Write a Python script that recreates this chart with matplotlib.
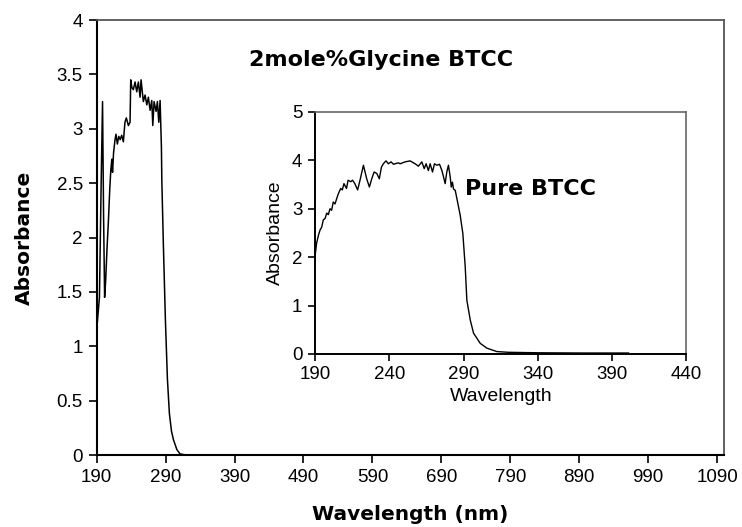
import matplotlib
matplotlib.use("Agg")
import matplotlib.pyplot as plt
import numpy as np

plt.rcParams["font.family"] = ["Liberation Sans", "DejaVu Sans"]

# 2 mole% glycine doped BTCC (main plot)
wl_main = [190, 192, 194, 196.5, 198.5, 200, 201.5, 203, 205, 207, 209, 210.5,
           212, 213, 214.5, 216.6, 218, 220, 222, 224, 226.3, 228.7, 231, 233,
           236, 238.4, 239.4, 241, 243.2, 245.7, 248.1, 250.5, 252.9, 254.4, 256,
           257.7, 260.2, 262.7, 265, 267.5, 269.9, 271.4, 273.3, 276.2, 278.1,
           280.1, 282, 283.9, 284.5, 286.8, 289.7, 292.6, 295.5, 298.5, 301.4,
           306.3, 311, 320]
abs_main = [1.15, 1.3, 1.45, 2.5, 3.25, 2.2, 1.45, 1.6, 1.9, 2.15, 2.45, 2.62,
            2.72, 2.6, 2.78, 2.9, 2.95, 2.86, 2.93, 2.9, 2.94, 2.88, 3.06, 3.1,
            3.03, 3.06, 3.45, 3.38, 3.36, 3.43, 3.34, 3.43, 3.29, 3.45, 3.35,
            3.25, 3.31, 3.22, 3.29, 3.17, 3.26, 3.03, 3.25, 3.16, 3.25,
            3.06, 3.26, 2.83, 2.53, 1.92, 1.24, 0.7, 0.38, 0.22, 0.14,
            0.05, 0.01, 0.0]

# pure BTCC (inset)
wl_pure = [190, 191.1, 192.3, 193.4, 194.5, 195.6, 196.8, 197.9, 199, 200.1,
           201.2, 202.3, 203.5, 204.5, 205.7, 207.3, 208.4, 209.5, 211.2, 212.3,
           214.1, 215.3, 216.8, 218.7, 220.3, 222.6, 224.8, 226.6, 228.2, 229.8,
           231.6, 233.3, 234.7, 236, 237.8, 239.4, 241.2, 242.8, 246.1, 247.3,
           250.7, 254, 257.4, 259.6, 261.9, 263.5, 264.8, 266.3, 267.5, 269.1,
           270.4, 272, 273.8, 275.4, 276.5, 277.6, 278.7, 279.8, 281, 281.7,
           282.5, 283.2, 284.4, 285.5, 286.6, 287.7, 289.5, 291.1, 292.2, 294.5,
           296.7, 301.2, 305.7, 312.4, 320, 340, 370, 401]
abs_pure = [2.01, 2.29, 2.45, 2.56, 2.62, 2.77, 2.8, 2.91, 2.88, 3.0,
            2.97, 3.14, 3.1, 3.2, 3.31, 3.42, 3.39, 3.52, 3.42, 3.59,
            3.56, 3.59, 3.52, 3.39, 3.59, 3.9, 3.62, 3.45, 3.62, 3.76,
            3.73, 3.62, 3.86, 3.93, 3.99, 3.93, 3.97, 3.92, 3.95, 3.93,
            3.97, 3.99, 3.93, 3.88, 3.97, 3.83, 3.93, 3.79, 3.93, 3.76,
            3.93, 3.9, 3.92, 3.79, 3.66, 3.52, 3.76, 3.9, 3.66, 3.45,
            3.55, 3.41, 3.38, 3.21, 3.04, 2.87, 2.49, 1.8, 1.11, 0.70,
            0.43, 0.22, 0.12, 0.05, 0.035, 0.025, 0.02, 0.02]

main_xticks = np.arange(190, 1091, 100)
main_yticks = [0, 0.5, 1, 1.5, 2, 2.5, 3, 3.5, 4]
inset_xticks = np.arange(190, 441, 50)
inset_yticks = [0, 1, 2, 3, 4, 5]

fig = plt.figure(figsize=(7.42, 5.27), dpi=100)

ax = fig.add_axes([0.1303, 0.1366, 0.8454, 0.8254])
ax.plot(wl_main, abs_main, color="black", lw=1.1)
ax.set_xlim(190, 1100)
ax.set_ylim(0, 4)
ax.set_xticks(main_xticks)
ax.set_yticks(main_yticks)
ax.set_yticklabels([f"{v:g}" for v in main_yticks])
ax.tick_params(direction="out", length=6, width=1.2, labelsize=13.5, pad=4)
for s in ["left", "bottom"]:
    ax.spines[s].set_linewidth(1.5)
for s in ["top", "right"]:
    ax.spines[s].set_linewidth(1.3)
    ax.spines[s].set_color("#555555")
ax.set_xlabel("Wavelength (nm)", fontsize=14.5, fontweight="bold",
              family="DejaVu Sans", labelpad=14)
ax.set_ylabel("Absorbance", fontsize=14.5, fontweight="bold",
              family="DejaVu Sans", labelpad=16)
fig.text(0.514, 0.886, "2mole%Glycine BTCC", fontsize=16, fontweight="bold",
         family="DejaVu Sans", ha="center", va="center")

ins = fig.add_axes([0.4245, 0.3283, 0.5007, 0.4592])
ins.plot(wl_pure, abs_pure, color="black", lw=1.0)
ins.set_xlim(190, 440)
ins.set_ylim(0, 5)
ins.set_xticks(inset_xticks)
ins.set_yticks(inset_yticks)
ins.tick_params(direction="out", length=5, width=1.2, labelsize=13.5, pad=4)
for s in ["left", "bottom"]:
    ins.spines[s].set_linewidth(1.4)
for s in ["top", "right"]:
    ins.spines[s].set_linewidth(1.2)
    ins.spines[s].set_color("#666666")
ins.set_xlabel("Wavelength", fontsize=14, labelpad=3)
ins.set_ylabel("Absorbance", fontsize=14, labelpad=6)
ins.text(0.404, 0.682, "Pure BTCC", transform=ins.transAxes, fontsize=16,
         fontweight="bold", family="DejaVu Sans", ha="left", va="center")

fig.savefig("out.png", dpi=100)
